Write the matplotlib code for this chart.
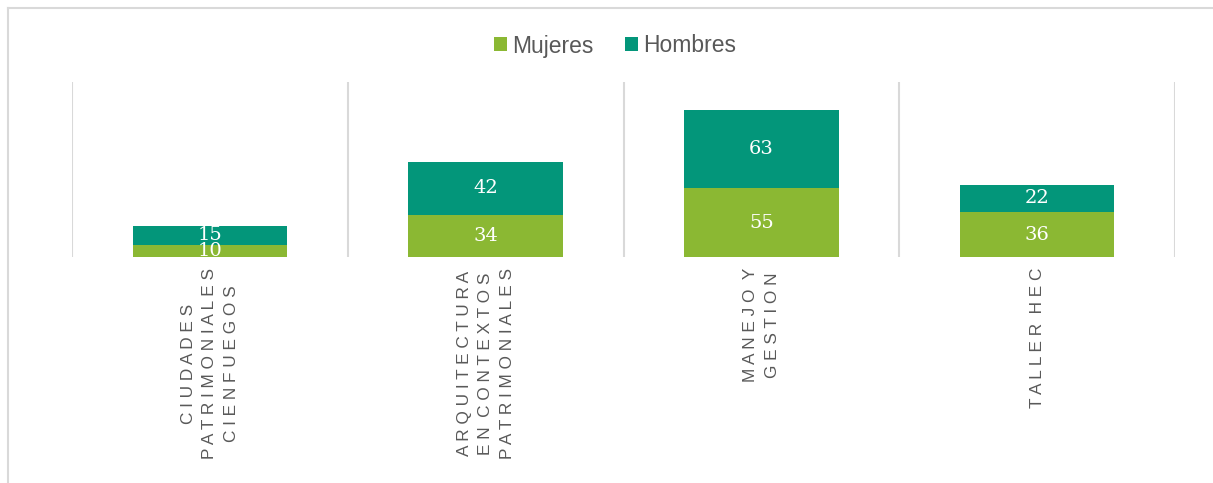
import matplotlib
matplotlib.use("Agg")
import matplotlib.pyplot as plt
from matplotlib.patches import Patch
from matplotlib.lines import Line2D

categories = ["CIUDADES\nPATRIMONIALES\nCIENFUEGOS",
              "ARQUITECTURA\nEN CONTEXTOS\nPATRIMONIALES",
              "MANEJO Y\nGESTION",
              "TALLER HEC"]
mujeres = [10, 34, 55, 36]
hombres = [15, 42, 63, 22]
series_names = ["Mujeres", "Hombres"]

c_muj = "#8BB833"
c_hom = "#03967A"
grid_c = "#D9D9D9"
text_c = "#595959"

def spaced(s):
    out = []
    for line in s.split("\n"):
        words = [" ".join(list(w)) for w in line.split(" ")]
        out.append("  ".join(words))
    return "\n".join(out)

W, H = 1213, 483
fig = plt.figure(figsize=(W / 100, H / 100), dpi=100)
ax = fig.add_axes([72 / W, (H - 257) / H, (1175 - 72) / W, (257 - 82) / H])

x = list(range(len(categories)))
bw = 0.56
ax.bar(x, mujeres, bw, color=c_muj, zorder=3)
ax.bar(x, hombres, bw, bottom=mujeres, color=c_hom, zorder=3)

lab_kw = dict(ha="center", va="center", color="white", fontsize=14,
              family="DejaVu Serif", zorder=4)
for i in x:
    ax.text(i, mujeres[i] / 2, str(mujeres[i]), **lab_kw)
    ax.text(i, mujeres[i] + hombres[i] / 2, str(hombres[i]), **lab_kw)

ax.set_xlim(-0.5, len(categories) - 0.5)
ax.set_ylim(0, 140)
for k in range(len(categories) + 1):
    ax.axvline(k - 0.5, color=grid_c, lw=1.5, zorder=1)
for s in ax.spines.values():
    s.set_visible(False)
ax.set_xticks([])
ax.set_yticks([])

for i, c in enumerate(categories):
    ax.annotate(spaced(c), xy=(i, 0), xycoords="data", xytext=(0, -11),
                textcoords="offset pixels", rotation=90, ha="center", va="top",
                multialignment="center", fontsize=12.4, color=text_c,
                family="Liberation Sans", linespacing=1.55)

handles = [Patch(facecolor=c_muj), Patch(facecolor=c_hom)]
fig.legend(handles, series_names, loc="center", bbox_to_anchor=(615 / W, 1 - 46 / H),
           ncol=2, frameon=False, handlelength=0.57, handleheight=0.57,
           handletextpad=0.22, columnspacing=1.35, labelcolor=text_c,
           prop={"family": "Liberation Sans", "size": 16.5})

fig.add_artist(Line2D([7.5 / W, 7.5 / W], [0, 1 - 7.5 / H], color=grid_c, lw=1.5))
fig.add_artist(Line2D([7.5 / W, 1], [1 - 7.5 / H, 1 - 7.5 / H], color=grid_c, lw=1.5))

fig.savefig("out.png", dpi=100, facecolor="white")
